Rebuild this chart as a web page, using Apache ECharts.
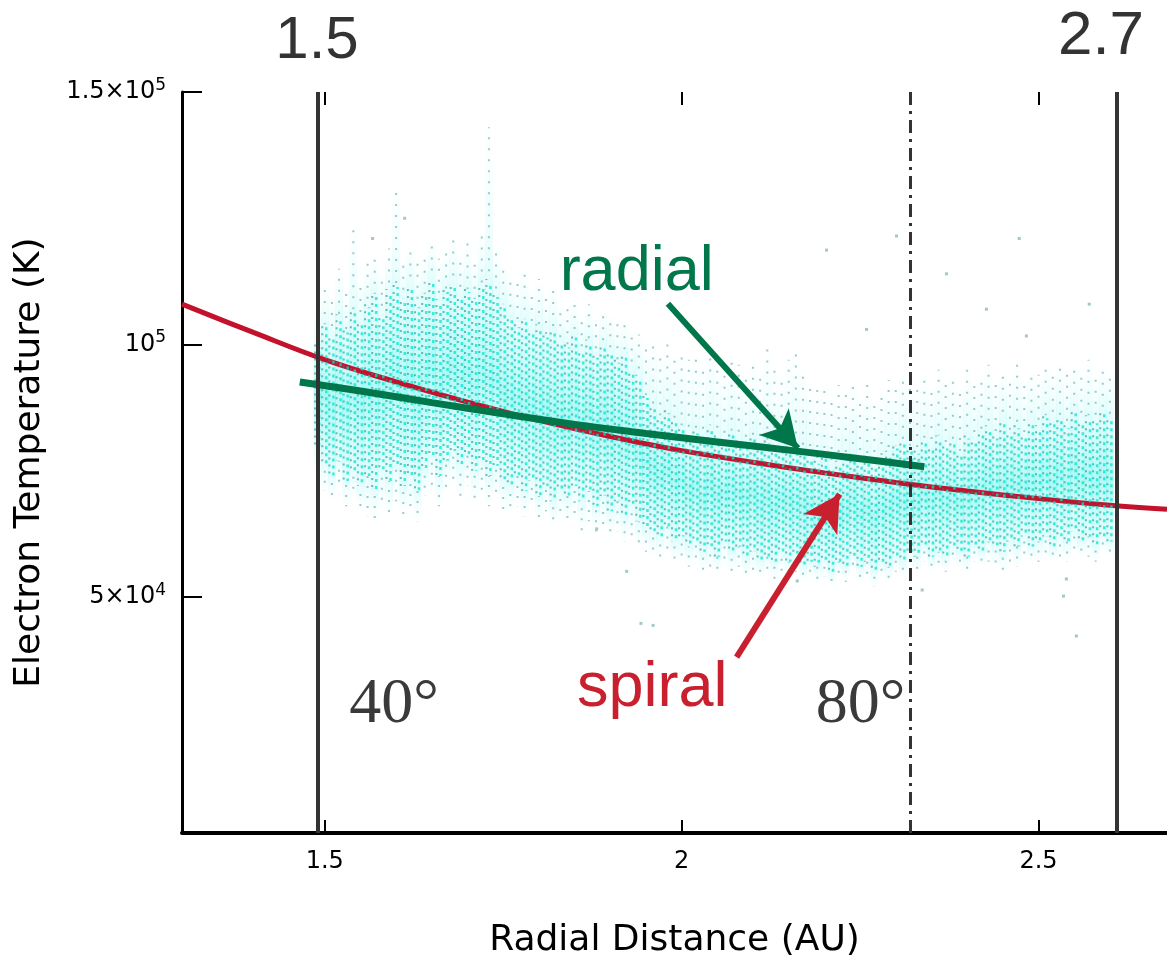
<!DOCTYPE html>
<html><head><meta charset="utf-8">
<script src="https://cdn.jsdelivr.net/npm/echarts@6/dist/echarts.min.js"></script>
<style>html,body{margin:0;padding:0;background:#fff}#c{width:1167px;height:961px}</style>
</head><body><div id="c"></div>
<script>
// ---- tick labels ----
const xTicks = [1.5, 2, 2.5];
const xTickLabels = ['1.5', '2', '2.5'];
const yTicks = [50000, 100000, 150000];
const yTickMantissa = ['5×10', '10', '1.5×10'];
const yTickExponent = ['4', '5', '5'];

// ---- model curves (AU, K) ----
const spiralX = [1.30, 1.40, 1.50, 1.60, 1.70, 1.80, 1.90, 2.00, 2.10, 2.20, 2.30, 2.40, 2.50, 2.60, 2.68];
const spiralY = [108000, 102400, 97000, 92600, 88600, 85000, 81800, 79000, 76700, 74600, 72700, 71000, 69500, 68200, 67400];
const radialX = [1.465, 1.55, 1.65, 1.75, 1.85, 1.95, 2.05, 2.15, 2.25, 2.34];
const radialY = [92600, 90800, 88500, 86300, 84200, 82400, 80700, 79100, 77400, 75800];

// ---- reference lines (AU) ----
const boundaryLines = [1.486, 2.608];
const angle80Line = 2.317;

// ---- measured electron temperature cloud: [R (AU), sparse top, dense top, dense bottom, sparse bottom] (K) ----
const streaks = [
 [1.49,108000,100000,80000,74000],[1.50,112000,104000,76000,71000],[1.51,110000,102000,74000,69000],
 [1.52,115000,106000,77000,72000],[1.53,111000,103000,73000,68000],[1.54,124000,107000,75000,70000],
 [1.55,113000,105000,72000,67000],[1.56,116000,108000,74000,66000],[1.57,118000,110000,71000,65000],
 [1.58,114000,106000,75000,68000],[1.59,119000,111000,73000,66000],[1.60,131000,112000,76000,69000],
 [1.61,117000,109000,72000,66000],[1.62,120000,112000,74000,67000],[1.63,116000,108000,71000,65000],
 [1.64,118000,110000,75000,70000],[1.65,121000,113000,78000,72000],[1.66,117000,109000,74000,68000],
 [1.67,119000,111000,77000,71000],[1.68,122000,112000,79000,73000],[1.69,118000,110000,76000,70000],
 [1.70,120000,111000,78000,72000],[1.71,117000,109000,75000,69000],[1.72,123000,112000,77000,71000],
 [1.73,143000,113000,74000,68000],[1.74,119000,110000,76000,70000],[1.75,116000,108000,73000,67000],
 [1.76,114000,106000,72000,67000],[1.77,112000,104000,74000,68000],[1.78,115000,105000,71000,66000],
 [1.79,111000,103000,73000,68000],[1.80,113000,104000,70000,65000],[1.81,110000,102000,72000,67000],
 [1.82,112000,103000,69000,64000],[1.83,108000,101000,71000,66000],[1.84,107000,100000,70000,65000],
 [1.85,109000,102000,72000,66000],[1.86,106000,99000,69000,63000],[1.87,108000,101000,71000,65000],
 [1.88,105000,98000,68000,63000],[1.89,107000,100000,70000,64000],[1.90,106000,99000,67000,62000],
 [1.91,104000,97000,69000,63000],[1.92,105000,98000,66000,61000],[1.93,103000,95000,68000,62000],
 [1.94,102000,94000,65000,60000],[1.95,100000,90000,64000,59000],[1.96,101000,88000,63000,58000],
 [1.97,99000,86000,62000,58000],[1.98,100000,87000,64000,59000],[1.99,98000,85000,61000,57000],
 [2.00,99000,84000,62000,57000],[2.01,97000,82000,60000,56000],[2.02,98000,83000,61000,57000],
 [2.03,96000,81000,59000,55000],[2.04,99000,84000,60000,56000],[2.05,97000,82000,58000,55000],
 [2.06,95000,80000,61000,57000],[2.07,98000,83000,59000,55000],[2.08,96000,81000,60000,56000],
 [2.09,94000,80000,58000,54000],[2.10,97000,82000,59000,55000],[2.11,95000,80000,57000,54000],
 [2.12,99000,81000,58000,55000],[2.13,96000,79000,57000,53000],[2.14,94000,80000,59000,55000],
 [2.15,97000,81000,57000,54000],[2.16,99000,79000,58000,55000],[2.17,95000,80000,56000,53000],
 [2.18,93000,78000,57000,54000],[2.19,91000,77000,56000,53000],[2.20,92000,78000,57000,54000],
 [2.21,90000,76000,55000,52000],[2.22,92000,77000,57000,54000],[2.23,91000,78000,56000,53000],
 [2.24,93000,79000,58000,55000],[2.25,90000,77000,56000,53000],[2.26,92000,78000,57000,54000],
 [2.27,89000,76000,55000,52000],[2.28,91000,78000,57000,54000],[2.29,93000,79000,56000,53000],
 [2.30,92000,80000,58000,55000],[2.31,94000,81000,57000,54000],[2.32,93000,80000,59000,56000],
 [2.33,91000,79000,58000,55000],[2.34,94000,81000,60000,57000],[2.35,92000,80000,58000,55000],
 [2.36,95000,82000,59000,56000],[2.37,93000,80000,58000,55000],[2.38,94000,81000,60000,57000],
 [2.39,92000,79000,59000,56000],[2.40,95000,82000,58000,55000],[2.41,93000,81000,60000,57000],
 [2.42,94000,83000,59000,56000],[2.43,96000,84000,61000,57000],[2.44,93000,82000,60000,56000],
 [2.45,95000,85000,59000,55000],[2.46,94000,83000,61000,57000],[2.47,96000,84000,60000,56000],
 [2.48,93000,82000,62000,58000],[2.49,95000,85000,60000,57000],[2.50,94000,84000,61000,57000],
 [2.51,96000,86000,62000,58000],[2.52,95000,85000,60000,57000],[2.53,97000,86000,62000,58000],
 [2.54,94000,84000,61000,57000],[2.55,96000,87000,63000,59000],[2.56,95000,85000,61000,58000],
 [2.57,97000,86000,62000,58000],[2.58,94000,85000,60000,57000],[2.59,96000,87000,62000,59000],
 [2.60,95000,86000,61000,58000]
];
// isolated outlying measurements
const outlierX = [2.203, 2.473, 2.427, 2.483, 2.571, 2.371, 2.301, 2.259, 2.539, 2.553, 2.535, 1.923, 1.960, 1.881, 2.162, 2.337, 1.943, 1.612, 1.567];
const outlierY = [118700, 121000, 107000, 101700, 108000, 114000, 121500, 103000, 53600, 42300, 50200, 55100, 44400, 63500, 53200, 51400, 44800, 125000, 121000];

// ---- annotations (arrow start, arrow tip) ----
const arrowRadial = [[1.9808, 108100], [2.1629, 79460]];
const arrowSpiral = [[2.077, 38100], [2.2213, 70390]];
const textRadial = [1.937, 114150];
const textSpiral = [1.9587, 31980];
const text40 = [1.597, 28600];
const text80 = [2.2507, 28600];

const chart = echarts.init(document.getElementById('c'), null, {renderer: 'canvas'});
const TICKFONT = 'DejaVu Sans';

function pts(api) {
  const x = api.value(0);
  return {
    top: api.coord([x, api.value(1)]),
    c1: api.coord([x, api.value(2)]),
    c2: api.coord([x, api.value(3)]),
    bot: api.coord([x, api.value(4)])
  };
}
function hazeItem(params, api) {
  const p = pts(api);
  const h = p.bot[1] - p.top[1];
  const f1 = Math.min(0.98, Math.max(0.01, (p.c1[1] - p.top[1]) / h));
  const f2 = Math.min(0.99, Math.max(f1 + 0.005, (p.c2[1] - p.top[1]) / h));
  return {
    type: 'rect',
    shape: {x: p.top[0] - 4, y: p.top[1], width: 8, height: h},
    style: {fill: new echarts.graphic.LinearGradient(0, 0, 0, 1, [
      {offset: 0, color: 'rgba(190,252,252,0)'},
      {offset: f1, color: 'rgba(150,248,245,0.25)'},
      {offset: (f1 + f2) / 2, color: 'rgba(40,240,228,0.38)'},
      {offset: f2, color: 'rgba(150,248,245,0.25)'},
      {offset: 1, color: 'rgba(190,252,252,0)'}
    ])}
  };
}
function dotItem(params, api) {
  const p = pts(api);
  const o = (params.dataIndex * 5) % 7;
  const x = p.top[0];
  return {
    type: 'group',
    children: [
      {type: 'line', shape: {x1: x - 2.5, y1: p.c1[1], x2: x - 2.5, y2: p.c2[1]},
       style: {stroke: 'rgba(35,140,140,0.6)', lineWidth: 2, lineDash: [2, 5], lineDashOffset: o}},
      {type: 'line', shape: {x1: x + 1.5, y1: p.c1[1] + 3, x2: x + 1.5, y2: p.c2[1]},
       style: {stroke: 'rgba(0,230,210,0.75)', lineWidth: 2.5, lineDash: [3, 4], lineDashOffset: o + 2}},
      {type: 'line', shape: {x1: x, y1: p.top[1], x2: x, y2: p.c1[1]},
       style: {stroke: 'rgba(60,150,150,0.5)', lineWidth: 2, lineDash: [2, 9], lineDashOffset: o}},
      {type: 'line', shape: {x1: x, y1: p.c2[1], x2: x, y2: p.bot[1]},
       style: {stroke: 'rgba(60,150,150,0.5)', lineWidth: 2, lineDash: [2, 8], lineDashOffset: o}}
    ]
  };
}

function textPoint(coord, text, color, size, family) {
  return {coord: coord, symbol: 'circle', symbolSize: 0,
    label: {show: true, position: 'inside', formatter: text, color: color, fontSize: size, fontFamily: family}};
}

const option = {
  animation: false,
  backgroundColor: '#fff',
  grid: {left: 182, right: 0, top: 92, bottom: 128, containLabel: false, outerBoundsMode: 'none'},
  xAxis: [{
    type: 'value', min: 1.3, max: 2.68, position: 'bottom',
    axisLine: {show: true, lineStyle: {color: '#000', width: 4}},
    axisTick: {show: true, inside: true, length: 13, customValues: xTicks, lineStyle: {color: '#000', width: 2}},
    axisLabel: {customValues: xTicks, margin: 17, color: '#000', fontSize: 24, fontFamily: TICKFONT,
      formatter: v => xTickLabels[xTicks.indexOf(v)]},
    splitLine: {show: false},
    name: 'Radial Distance (AU)', nameLocation: 'middle', nameGap: 90,
    nameTextStyle: {color: '#000', fontSize: 36, fontFamily: TICKFONT}
  }, {
    type: 'value', min: 1.3, max: 2.68, position: 'top',
    axisLine: {show: false},
    axisTick: {show: true, inside: true, length: 13, customValues: xTicks, lineStyle: {color: '#000', width: 2}},
    axisLabel: {show: false},
    splitLine: {show: false}
  }],
  yAxis: {
    type: 'value', min: 3300, max: 150000,
    axisLine: {show: true, lineStyle: {color: '#000', width: 3}},
    axisTick: {show: true, inside: true, length: 20, customValues: yTicks, lineStyle: {color: '#000', width: 2}},
    axisLabel: {customValues: yTicks, margin: 16,
      formatter: v => { const i = yTicks.indexOf(v); return '{m|' + yTickMantissa[i] + '}{e|' + yTickExponent[i] + '}'; },
      rich: {
        m: {fontSize: 24, fontFamily: TICKFONT, color: '#000', lineHeight: 30},
        e: {fontSize: 17, fontFamily: TICKFONT, color: '#000', verticalAlign: 'top', lineHeight: 17}
      }},
    splitLine: {show: false},
    name: 'Electron Temperature (K)', nameLocation: 'middle', nameGap: 134,
    nameTextStyle: {color: '#000', fontSize: 36, fontFamily: TICKFONT}
  },
  series: [
    {type: 'custom', name: 'haze', data: streaks, renderItem: hazeItem, silent: true, z: 1,
     encode: {x: 0, y: [1, 2, 3, 4]}},
    {type: 'line', name: 'spiral', data: spiralX.map((x, i) => [x, spiralY[i]]), smooth: 0.4,
     showSymbol: false, silent: true, z: 2, lineStyle: {color: '#c3122c', width: 5},
     markLine: {silent: true, symbol: 'none', label: {show: false}, emphasis: {disabled: true}, animation: false,
       data: [
         {xAxis: boundaryLines[0], lineStyle: {color: '#333', width: 4, type: 'solid'}},
         {xAxis: boundaryLines[1], lineStyle: {color: '#333', width: 4, type: 'solid'}},
         {xAxis: angle80Line, lineStyle: {color: '#333', width: 3, type: [13, 6, 3, 6]}}
       ]}},
    {type: 'custom', name: 'dots', data: streaks, renderItem: dotItem, silent: true, z: 3,
     encode: {x: 0, y: [1, 2, 3, 4]}},
    {type: 'scatter', name: 'outliers', data: outlierX.map((x, i) => [x, outlierY[i]]), symbol: 'rect',
     symbolSize: 3, silent: true, z: 3, itemStyle: {color: 'rgba(60,140,140,0.6)'}},
    {type: 'line', name: 'radial', data: radialX.map((x, i) => [x, radialY[i]]), smooth: 0.4,
     showSymbol: false, silent: true, z: 4, lineStyle: {color: '#00774a', width: 7}},
    {type: 'scatter', name: 'annotations', data: [], z: 5, silent: true,
     markLine: {silent: true, label: {show: false}, emphasis: {disabled: true}, animation: false,
       symbol: ['none', 'arrow'], symbolSize: [30, 36],
       data: [
         [{coord: arrowRadial[0], lineStyle: {color: '#00774a', width: 6, type: 'solid'}}, {coord: arrowRadial[1]}],
         [{coord: arrowSpiral[0], lineStyle: {color: '#c8202f', width: 6, type: 'solid'}}, {coord: arrowSpiral[1]}]
       ]},
     markPoint: {silent: true, animation: false,
       data: [
         textPoint(textRadial, 'radial', '#00784c', 63, 'Liberation Sans, Arial, sans-serif'),
         textPoint(textSpiral, 'spiral', '#c8202f', 63, 'Liberation Sans, Arial, sans-serif'),
         textPoint(text40, '40°', '#3a3a3a', 64, 'Liberation Serif, Times New Roman, serif'),
         textPoint(text80, '80°', '#3a3a3a', 64, 'Liberation Serif, Times New Roman, serif')
       ]}}
  ],
  graphic: [
    {type: 'text', x: 317, y: 41, style: {text: '1.5', fill: '#333', font: '60px "Liberation Sans", Arial, sans-serif',
      textAlign: 'center', textVerticalAlign: 'middle', align: 'center', verticalAlign: 'middle'}},
    {type: 'text', x: 1101, y: 37, style: {text: '2.7', fill: '#333', font: '62px "Liberation Sans", Arial, sans-serif',
      textAlign: 'center', textVerticalAlign: 'middle', align: 'center', verticalAlign: 'middle'}}
  ]
};
chart.setOption(option);
</script>
</body></html>
